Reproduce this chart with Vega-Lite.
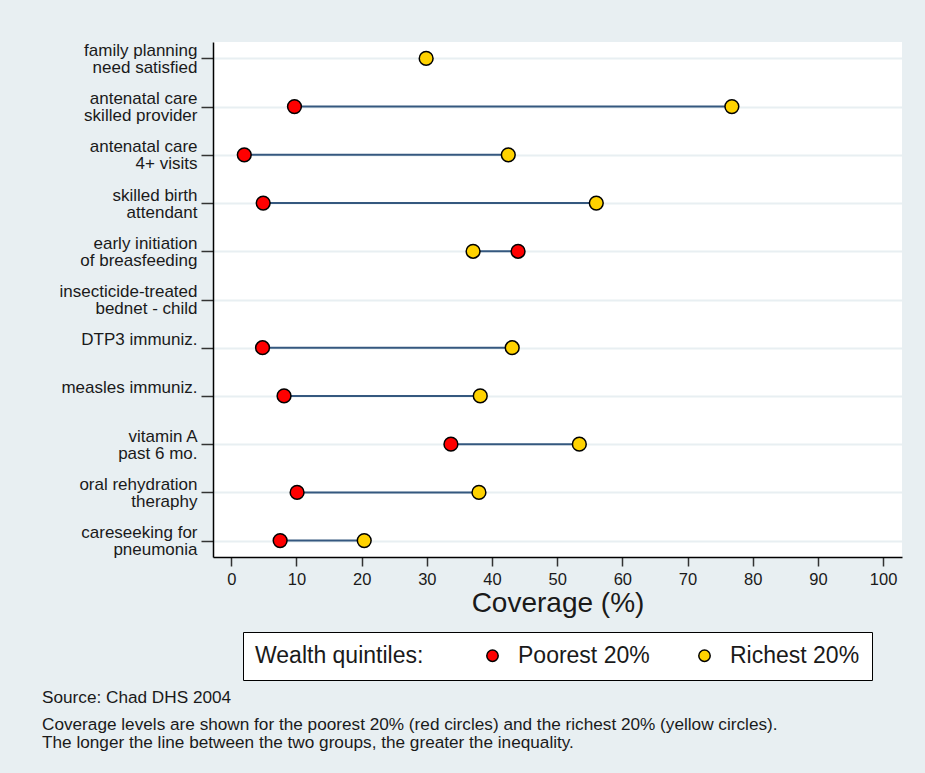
{
  "$schema": "https://vega.github.io/schema/vega-lite/v6.json",
  "autosize": {"type": "none"},
  "width": 689,
  "height": 515,
  "padding": {"left": 213, "top": 42, "right": 23, "bottom": 216},
  "background": "#e8eff2",
  "config": {
    "font": "Liberation Sans",
    "view": {"fill": "white", "stroke": null}
  },
  "title": {
    "text": "Source: Chad DHS 2004",
    "subtitle": ["Coverage levels are shown for the poorest 20% (red circles) and the richest 20% (yellow circles).", "The longer the line between the two groups, the greater the inequality."],
    "orient": "bottom",
    "anchor": "start",
    "frame": "group",
    "dx": -171,
    "offset": 8,
    "fontSize": 17.2,
    "fontWeight": "normal",
    "color": "#1a1a1a",
    "subtitleFontSize": 17.2,
    "subtitleColor": "#1a1a1a",
    "subtitleLineHeight": 18,
    "subtitlePadding": 10
  },
  "data": {
    "values": [
      {"cat": "family planning|need satisfied", "group": "Richest 20%", "value": 29.9},
      {"cat": "antenatal care|skilled provider", "group": "Poorest 20%", "value": 9.7},
      {"cat": "antenatal care|skilled provider", "group": "Richest 20%", "value": 76.8},
      {"cat": "antenatal care|4+ visits", "group": "Poorest 20%", "value": 2.0},
      {"cat": "antenatal care|4+ visits", "group": "Richest 20%", "value": 42.5},
      {"cat": "skilled birth|attendant", "group": "Poorest 20%", "value": 4.9},
      {"cat": "skilled birth|attendant", "group": "Richest 20%", "value": 56.0},
      {"cat": "early initiation|of breasfeeding", "group": "Richest 20%", "value": 37.1},
      {"cat": "early initiation|of breasfeeding", "group": "Poorest 20%", "value": 44.0},
      {"cat": "insecticide-treated|bednet - child", "group": "Poorest 20%", "value": null},
      {"cat": "DTP3 immuniz.| ", "group": "Poorest 20%", "value": 4.8},
      {"cat": "DTP3 immuniz.| ", "group": "Richest 20%", "value": 43.1},
      {"cat": "measles immuniz.| ", "group": "Poorest 20%", "value": 8.1},
      {"cat": "measles immuniz.| ", "group": "Richest 20%", "value": 38.2},
      {"cat": "vitamin A|past 6 mo.", "group": "Poorest 20%", "value": 33.7},
      {"cat": "vitamin A|past 6 mo.", "group": "Richest 20%", "value": 53.4},
      {"cat": "oral rehydration|theraphy", "group": "Poorest 20%", "value": 10.1},
      {"cat": "oral rehydration|theraphy", "group": "Richest 20%", "value": 38.0},
      {"cat": "careseeking for|pneumonia", "group": "Poorest 20%", "value": 7.5},
      {"cat": "careseeking for|pneumonia", "group": "Richest 20%", "value": 20.4}
    ]
  },
  "encoding": {
    "y": {
      "field": "cat",
      "type": "nominal",
      "sort": null,
      "scale": {
        "type": "point",
        "padding": 0.34,
        "domain": ["family planning|need satisfied", "antenatal care|skilled provider", "antenatal care|4+ visits", "skilled birth|attendant", "early initiation|of breasfeeding", "insecticide-treated|bednet - child", "DTP3 immuniz.| ", "measles immuniz.| ", "vitamin A|past 6 mo.", "oral rehydration|theraphy", "careseeking for|pneumonia"]
      },
      "axis": {
        "title": null,
        "labelExpr": "split(datum.label, '|')",
        "labelFontSize": 17,
        "labelColor": "#1a1a1a",
        "labelLineHeight": 17,
        "labelOffset": -8,
        "labelPadding": 4,
        "labelOverlap": false,
        "tickSize": 12,
        "tickColor": "#333",
        "tickWidth": 1.5,
        "domainColor": "black",
        "domainWidth": 1.5,
        "grid": true,
        "gridColor": "#e8eff2",
        "gridWidth": 2
      }
    }
  },
  "layer": [
    {
      "mark": {"type": "rule", "color": "#35587f", "strokeWidth": 2},
      "encoding": {
        "x": {"aggregate": "min", "field": "value", "type": "quantitative"},
        "x2": {"aggregate": "max", "field": "value"}
      }
    },
    {
      "mark": {"type": "point", "shape": "circle", "filled": true, "size": 190, "stroke": "black", "strokeWidth": 1.5, "opacity": 1},
      "encoding": {
        "x": {
          "field": "value",
          "type": "quantitative",
          "scale": {"domain": [-2.8, 102.9], "nice": false, "zero": false},
          "axis": {
            "title": "Coverage (%)",
            "titleFontSize": 28,
            "titleFontWeight": "normal",
            "titleColor": "#1a1a1a",
            "titlePadding": 2,
            "values": [0, 10, 20, 30, 40, 50, 60, 70, 80, 90, 100],
            "labelFontSize": 16.5,
            "labelColor": "#1a1a1a",
            "labelPadding": 5,
            "tickSize": 9,
            "tickColor": "#333",
            "tickWidth": 1.5,
            "domainColor": "black",
            "domainWidth": 1.5,
            "grid": false
          }
        },
        "color": {
          "field": "group",
          "type": "nominal",
          "scale": {"domain": ["Poorest 20%", "Richest 20%"], "range": ["#ff0000", "#ffd200"]},
          "legend": {
            "title": "Wealth quintiles:",
            "orient": "none",
            "legendX": 30,
            "legendY": 590,
            "direction": "horizontal",
            "titleOrient": "left",
            "titleFontSize": 23,
            "titleFontWeight": "normal",
            "titleColor": "#1a1a1a",
            "titlePadding": 57,
            "titleBaseline": "middle",
            "labelFontSize": 23,
            "labelColor": "#1a1a1a",
            "labelOffset": 14,
            "columnPadding": 43,
            "symbolSize": 130,
            "symbolStrokeColor": "black",
            "symbolStrokeWidth": 1.5,
            "fillColor": "white",
            "strokeColor": "black",
            "padding": 12
          }
        }
      }
    }
  ]
}
